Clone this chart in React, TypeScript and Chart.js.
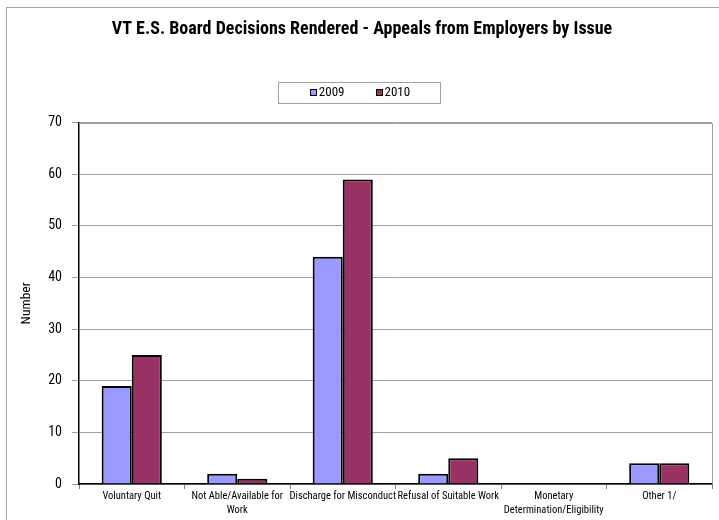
import React, { useEffect, useRef } from "react";
import { Chart, registerables } from "chart.js";

Chart.register(...registerables);

const TITLE = "VT E.S. Board Decisions Rendered - Appeals from Employers by Issue";
const categories: (string | string[])[] = [
  "Voluntary Quit",
  ["Not Able/Available for", "Work"],
  "Discharge for Misconduct",
  "Refusal of Suitable Work",
  ["Monetary", "Determination/Eligibility"],
  "Other 1/",
];
const values2009 = [19, 2, 44, 2, 0, 4];
const values2010 = [25, 1, 59, 5, 0, 4];
const seriesLabels = ["2009", "2010"];
const seriesColors = ["#9999FF", "#993366"];
const yTitle = "Number";

const FONT = '"Roboto Condensed", "Liberation Sans", Arial, sans-serif';

const framePlugin = {
  id: "frame",
  beforeDraw(chart: any) {
    const ctx = chart.ctx;
    ctx.save();
    ctx.strokeStyle = "#a6a6a6";
    ctx.lineWidth = 1;
    ctx.strokeRect(6.5, 7.5, 800, 600);
    ctx.restore();
  },
  beforeDatasetsDraw(chart: any) {
    const { ctx, chartArea } = chart;
    ctx.save();
    ctx.strokeStyle = "#a0a0a0";
    ctx.lineWidth = 1;
    ctx.beginPath();
    ctx.moveTo(chartArea.left, Math.round(chartArea.top) + 0.5);
    ctx.lineTo(Math.round(chartArea.right) + 0.5, Math.round(chartArea.top) + 0.5);
    ctx.lineTo(Math.round(chartArea.right) + 0.5, chartArea.bottom);
    ctx.stroke();
    ctx.restore();
  },
  afterDraw(chart: any) {
    const ctx = chart.ctx;
    ctx.save();
    ctx.font = "13px " + FONT;
    ctx.textBaseline = "middle";
    const sw = 7;
    const gap = 2;
    const spacing = 31;
    const items = chart.data.datasets.map((ds: any) => ({
      label: ds.label,
      color: ds.backgroundColor,
      w: ctx.measureText(ds.label).width,
    }));
    let total = 0;
    items.forEach((it: any, i: number) => {
      total += sw + gap + it.w + (i > 0 ? spacing : 0);
    });
    const cx = 360;
    const cy = 93;
    const boxW = 162;
    const boxX = Math.round(cx - boxW / 2) - 0.5;
    ctx.strokeStyle = "#a0a0a0";
    ctx.lineWidth = 1;
    ctx.strokeRect(boxX, 82.5, boxW, 21);
    let x = cx - total / 2;
    items.forEach((it: any) => {
      ctx.fillStyle = it.color;
      ctx.fillRect(Math.round(x), cy - 4, sw, sw);
      ctx.strokeStyle = "#000";
      ctx.strokeRect(Math.round(x) + 0.5, cy - 3.5, sw - 1, sw - 1);
      ctx.fillStyle = "#000";
      ctx.fillText(it.label, x + sw + gap, cy);
      x += sw + gap + it.w + spacing;
    });
    ctx.restore();
  },
};

export default function App() {
  const ref = useRef<HTMLCanvasElement | null>(null);
  useEffect(() => {
    document.body.style.margin = "0";
    const canvas = ref.current!;
    const chart = new Chart(canvas, {
      type: "bar",
      data: {
        labels: categories,
        datasets: [
          {
            label: seriesLabels[0],
            data: values2009,
            backgroundColor: seriesColors[0],
            borderColor: "#000",
            borderWidth: 2,
          },
          {
            label: seriesLabels[1],
            data: values2010,
            backgroundColor: seriesColors[1],
            borderColor: "#000",
            borderWidth: 2,
          },
        ],
      },
      options: {
        responsive: false,
        animation: false,
        layout: { padding: { left: 12, right: 7, top: 0, bottom: 0 } },
        datasets: {
          bar: { categoryPercentage: 0.57, barPercentage: 1.0 },
        },
        plugins: {
          legend: { display: false },
          tooltip: { enabled: false },
          title: {
            display: true,
            text: TITLE,
            color: "#000",
            font: { family: FONT, size: 18, weight: "bold" },
            padding: { top: 19, bottom: 82 },
          },
        },
        scales: {
          x: {
            grid: {
              display: true,
              drawOnChartArea: false,
              tickLength: 5,
              color: "#808080",
              offset: true,
            },
            border: { display: true, color: "#000", width: 1.5 },
            ticks: {
              color: "#000",
              font: { family: FONT, size: 10.5, lineHeight: 1.3 },
              padding: 1,
              maxRotation: 0,
              autoSkip: false,
            },
            afterFit(scale: any) {
              scale.height = 36;
            },
          },
          y: {
            min: 0,
            max: 70,
            ticks: {
              stepSize: 10,
              color: "#000",
              font: { family: FONT, size: 14 },
              padding: 10,
            },
            grid: { color: "#a0a0a0", tickLength: 7 },
            border: { display: true, color: "#000", width: 1.5 },
            title: {
              display: true,
              text: yTitle,
              color: "#000",
              font: { family: FONT, size: 13.5 },
              padding: { top: 7, bottom: 0 },
            },
            afterFit(scale: any) {
              scale.width = 67;
            },
          },
        },
      },
      plugins: [framePlugin],
    });
    return () => chart.destroy();
  }, []);
  return (
    <div style={{ width: 719, height: 520, position: "relative", background: "#fff" }}>
      <canvas ref={ref} width={719} height={520} style={{ display: "block" }} />
    </div>
  );
}
